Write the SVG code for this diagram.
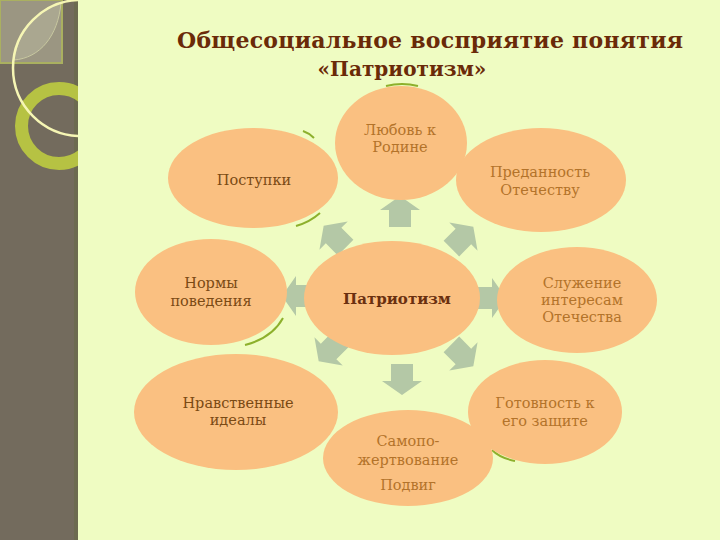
<svg xmlns="http://www.w3.org/2000/svg" width="720" height="540" viewBox="0 0 720 540">
<style>
.node{fill:#fac081;}
.t{font-family:"DejaVu Serif","Liberation Serif",serif;font-size:14.5px;text-anchor:middle;}
.dk{fill:#7a4a14;}
.lt{fill:#b3732a;}
.title{font-family:"DejaVu Serif","Liberation Serif",serif;font-weight:bold;font-size:20px;fill:#6a2a08;text-anchor:middle;}
.acc{fill:none;stroke:#8db02c;stroke-width:2;}
.arr{fill:#b4c8a6;}
</style>
<defs>
<path id="arr" d="M0,-16 L20,-2 L11,-2 L11,15 L-11,15 L-11,-2 L-20,-2 Z"/>
<clipPath id="side"><rect x="0" y="0" width="78" height="540"/></clipPath>
</defs>
<rect x="0" y="0" width="720" height="540" fill="#effcc2"/>
<g id="sidebar">
<rect x="0" y="0" width="78" height="540" fill="#736b5d"/>
<rect x="74" y="0" width="4" height="540" fill="#6c6a50"/>
<g clip-path="url(#side)">
<rect x="0" y="0" width="62" height="63" fill="#9b9682" stroke="#aab060" stroke-width="2"/>
<path d="M61,3 A68,68 0 0,0 14,60 C40,58 58,36 61,3 Z" fill="#aaa790" stroke="#c8c8a0" stroke-width="1"/>
<circle cx="59" cy="126" r="37.5" fill="none" stroke="#b6c243" stroke-width="13"/>
<circle cx="81" cy="68" r="68" fill="none" stroke="#f6f6b4" stroke-width="2.5"/>
</g>
</g>
<g id="title">
<text class="title" x="430" y="48" style="font-size:22px" textLength="506" lengthAdjust="spacing">Общесоциальное восприятие понятия</text>
<text class="title" x="402" y="76">«Патриотизм»</text>
</g>
<g id="connectors">
<use href="#arr" class="arr" transform="translate(400,212)"/>
<use href="#arr" class="arr" transform="translate(462,238) rotate(45)"/>
<use href="#arr" class="arr" transform="translate(490,298) rotate(90)"/>
<use href="#arr" class="arr" transform="translate(462,355) rotate(135)"/>
<use href="#arr" class="arr" transform="translate(402,379) rotate(180)"/>
<use href="#arr" class="arr" transform="translate(330,350) rotate(225)"/>
<use href="#arr" class="arr" transform="translate(298,296) rotate(270)"/>
<use href="#arr" class="arr" transform="translate(335,237) rotate(315)"/>
</g>
<g id="accents">
<path class="acc" d="M386,86 Q402,82 418,86"/>
<path class="acc" d="M303,131 Q309,133 314,138"/>
<path class="acc" d="M296,226 Q310,222 320,213"/>
<path class="acc" d="M245,345 Q272,338 283,318"/>
<path class="acc" d="M492,450 Q500,458 515,461"/>
</g>
<g id="n-lyubov">
<ellipse class="node" cx="401" cy="143" rx="66" ry="57"/>
<text class="t lt" x="400" y="135">Любовь к</text>
<text class="t lt" x="400" y="152">Родине</text>
</g>
<g id="n-postupki">
<ellipse class="node" cx="253" cy="178" rx="85" ry="50"/>
<text class="t dk" x="254" y="185">Поступки</text>
</g>
<g id="n-predannost">
<ellipse class="node" cx="541" cy="180" rx="85" ry="52"/>
<text class="t lt" x="540" y="177">Преданность</text>
<text class="t lt" x="540" y="195">Отечеству</text>
</g>
<g id="n-normy">
<ellipse class="node" cx="211" cy="292" rx="76" ry="53"/>
<text class="t dk" x="211" y="288">Нормы</text>
<text class="t dk" x="211" y="306">поведения</text>
</g>
<g id="n-center">
<ellipse class="node" cx="392" cy="298" rx="88" ry="57"/>
<text class="t" x="397" y="304" style="font-weight:bold;fill:#6a3010;font-size:15px">Патриотизм</text>
</g>
<g id="n-sluzhenie">
<ellipse class="node" cx="577" cy="300" rx="80" ry="53"/>
<text class="t lt" x="582" y="288">Служение</text>
<text class="t lt" x="582" y="305">интересам</text>
<text class="t lt" x="582" y="322">Отечества</text>
</g>
<g id="n-nravstv">
<ellipse class="node" cx="236" cy="412" rx="102" ry="58"/>
<text class="t dk" x="238" y="408">Нравственные</text>
<text class="t dk" x="238" y="425">идеалы</text>
</g>
<g id="n-gotovnost">
<ellipse class="node" cx="545" cy="412" rx="77" ry="52"/>
<text class="t lt" x="545" y="408">Готовность к</text>
<text class="t lt" x="545" y="426">его защите</text>
</g>
<g id="n-samopo">
<ellipse class="node" cx="408" cy="458" rx="85" ry="48"/>
<text class="t lt" x="408" y="446">Самопо-</text>
<text class="t lt" x="408" y="465">жертвование</text>
<text class="t lt" x="408" y="490">Подвиг</text>
</g>
</svg>
